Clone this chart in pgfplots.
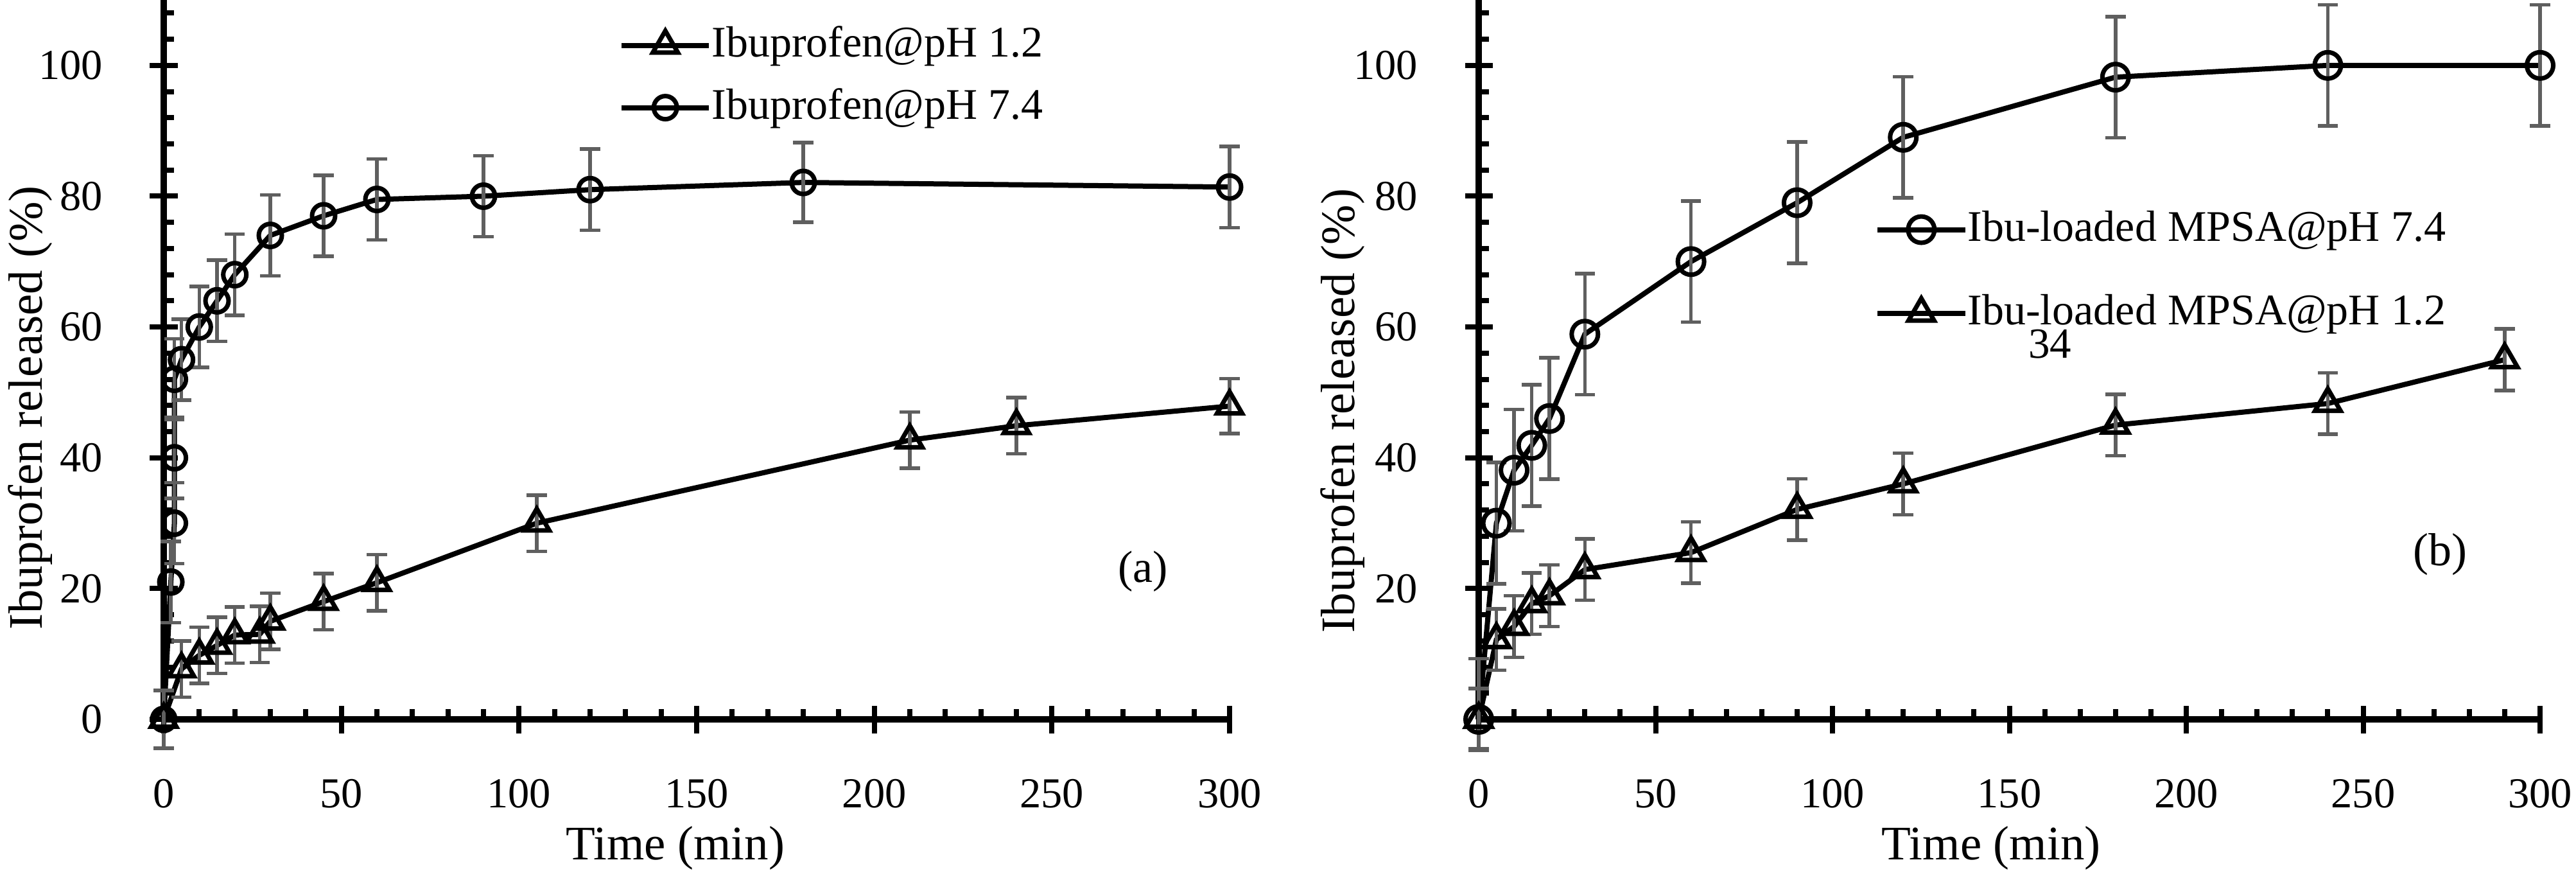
\documentclass[border=0pt]{standalone}
\usepackage{fontspec}
\setmainfont{Liberation Serif}
\usepackage{pgfplots}
\usepackage{pgfplotstable}
\pgfplotsset{compat=1.18}
\definecolor{ebgray}{RGB}{95,95,95}

\pgfplotstableread{
x y ep em
0 0 4.4 4.4
5 7.7 4.3 4.3
10 9.8 4.3 4.3
15 11.3 4.3 4.3
20 12.9 4.3 4.3
27 13.0 4.3 4.3
30 15.0 4.3 4.3
45 18.0 4.3 4.3
60 20.9 4.3 4.3
105 30.0 4.3 4.3
210 42.7 4.3 4.3
240 44.9 4.3 4.3
300 47.9 4.2 4.2
}\leftlow
\pgfplotstableread{
x y ep em
0 0 4.4 4.4
2 21 6.2 6.2
3 30 6.2 6.2
3 40 6.2 6.2
3 52 6.2 6.2
5 55 6.2 6.2
10 60 6.2 6.2
15 64 6.2 6.2
20 68 6.2 6.2
30 74 6.2 6.2
45 77 6.2 6.2
60 79.5 6.2 6.2
90 80 6.2 6.2
120 81 6.2 6.2
180 82.1 6.1 6.1
300 81.4 6.2 6.2
}\lefthigh
\pgfplotstableread{
x y ep em
0 0 9.3 4.5
5 30.0 9.27 9.27
10 38.1 9.27 9.27
15 41.9 9.27 9.27
20 46.0 9.27 9.27
30 58.9 9.27 9.27
60 70.0 9.27 9.27
90 79.0 9.27 9.27
120 89.0 9.27 9.27
180 98.2 9.27 9.27
240 100 9.27 9.27
300 100 9.27 9.27
}\righthigh
\pgfplotstableread{
x y ep em
0 0 4.7 4.7
5 12.2 4.7 4.7
10 14.2 4.7 4.7
15 17.7 4.7 4.7
20 18.9 4.7 4.7
30 22.9 4.7 4.7
60 25.5 4.7 4.7
90 32.1 4.7 4.7
120 36.0 4.7 4.7
180 45.0 4.7 4.7
240 48.3 4.7 4.7
290 55.0 4.7 4.7
}\rightlow

\pgfplotsset{
  panel/.style={
    scale only axis, height=224pt,
    xmin=0, xmax=300, ymin=0, ymax=110,
    axis lines*=left,
    axis line style={line width=2pt, black},
    clip=false,
    xtick={0,50,...,300},
    tick align=center,
    major tick length=8.6pt,
    every tick/.style={line width=1.6pt, black},
    extra x ticks={10,20,30,40,60,70,80,90,110,120,130,140,160,170,180,190,210,220,230,240,260,270,280,290},
    extra x tick labels={},
    extra x tick style={tick align=inside, major tick length=3.2pt},
    extra y ticks={4,8,12,16,24,28,32,36,44,48,52,56,64,68,72,76,84,88,92,96,104,108},
    extra y tick labels={},
    extra y tick style={tick align=inside, major tick length=3.2pt},
    tick label style={font=\fontsize{13.3}{14}\selectfont, inner sep=0pt},
    xticklabel style={anchor=north, yshift=-14.2pt},
    yticklabel style={anchor=east, xshift=-14.5pt},
    /pgf/number format/assume math mode=true,
    xlabel={Time (min)},
    ylabel={Ibuprofen released (\%)},
    label style={font=\fontsize{15}{18}\selectfont, inner sep=0pt},
    error bars/y dir=both,
    error bars/y explicit,
    error bars/error bar style={line width=1.1pt, ebgray, solid},
    error bars/error mark options={line width=1.1pt, ebgray, mark size=3.15pt, rotate=90},
    legend image code/.code={\draw[mark repeat=2,mark phase=2] plot coordinates {(0pt,0pt)(13.65pt,0pt)(27.3pt,0pt)};},
    legend cell align=left,
  },
  ser/.style={black, line width=1.6pt, mark options={line width=1.4pt, solid, black}},
}

\begin{document}
\begin{tikzpicture}
\useasboundingbox (0,0) rectangle (802.4pt,273.2pt);

\begin{axis}[panel, at={(51pt,49.2pt)}, anchor=south west, width=332pt,
  ytick={0,20,...,100},
  xlabel style={at={(axis description cs:0.480,-0.1955)}, anchor=base},
  ylabel style={at={(axis description cs:-0.1139,0.433)}, anchor=base},
  legend style={draw=none, fill=none, inner sep=0pt, outer sep=0pt,
    at={(axis description cs:0.4271,0.9660)}, anchor=north west,
    font=\fontsize{13.6}{16}\selectfont, row sep=6.4pt,
    nodes={inner sep=0pt, text height=10pt, text depth=3pt},
    /tikz/every even column/.append style={column sep=2.8pt}},
]
\addplot[ser, mark=triangle, mark size=4.5pt] table[x=x, y=y, y error plus=ep, y error minus=em] {\leftlow};
\addlegendentry{Ibuprofen@pH 1.2}
\addplot[ser, mark=o, mark size=3.6pt] table[x=x, y=y, y error plus=ep, y error minus=em] {\lefthigh};
\addlegendentry{Ibuprofen@pH 7.4}
\end{axis}

\begin{axis}[panel, at={(460.6pt,49.2pt)}, anchor=south west, width=330.6pt,
  ytick={20,40,...,100},
  xlabel style={at={(axis description cs:0.4828,-0.1955)}, anchor=base},
  ylabel style={at={(axis description cs:-0.1168,0.429)}, anchor=base},
  legend style={draw=none, fill=none, inner sep=0pt, outer sep=0pt,
    at={(axis description cs:0.3733,0.7098)}, anchor=north west,
    font=\fontsize{13.6}{16}\selectfont, row sep=13pt,
    nodes={inner sep=0pt, text height=10pt, text depth=3pt},
    /tikz/every even column/.append style={column sep=2.8pt}},
]
\addplot[ser, mark=o, mark size=4.1pt] table[x=x, y=y, y error plus=ep, y error minus=em] {\righthigh};
\addlegendentry{Ibu-loaded MPSA@pH 7.4}
\addplot[ser, mark=triangle, mark size=4.6pt] table[x=x, y=y, y error plus=ep, y error minus=em] {\rightlow};
\addlegendentry{Ibu-loaded MPSA@pH 1.2}
\end{axis}

\node[anchor=base west, inner sep=0pt, font=\fontsize{14}{16}\selectfont] at (348pt,92pt) {(a)};
\node[anchor=base west, inner sep=0pt, font=\fontsize{14.4}{16}\selectfont] at (751.4pt,97.2pt) {(b)};
\node[anchor=base west, inner sep=0pt, font=\fontsize{13.4}{15}\selectfont] at (631.6pt,161.6pt) {34};
\end{tikzpicture}
\end{document}
